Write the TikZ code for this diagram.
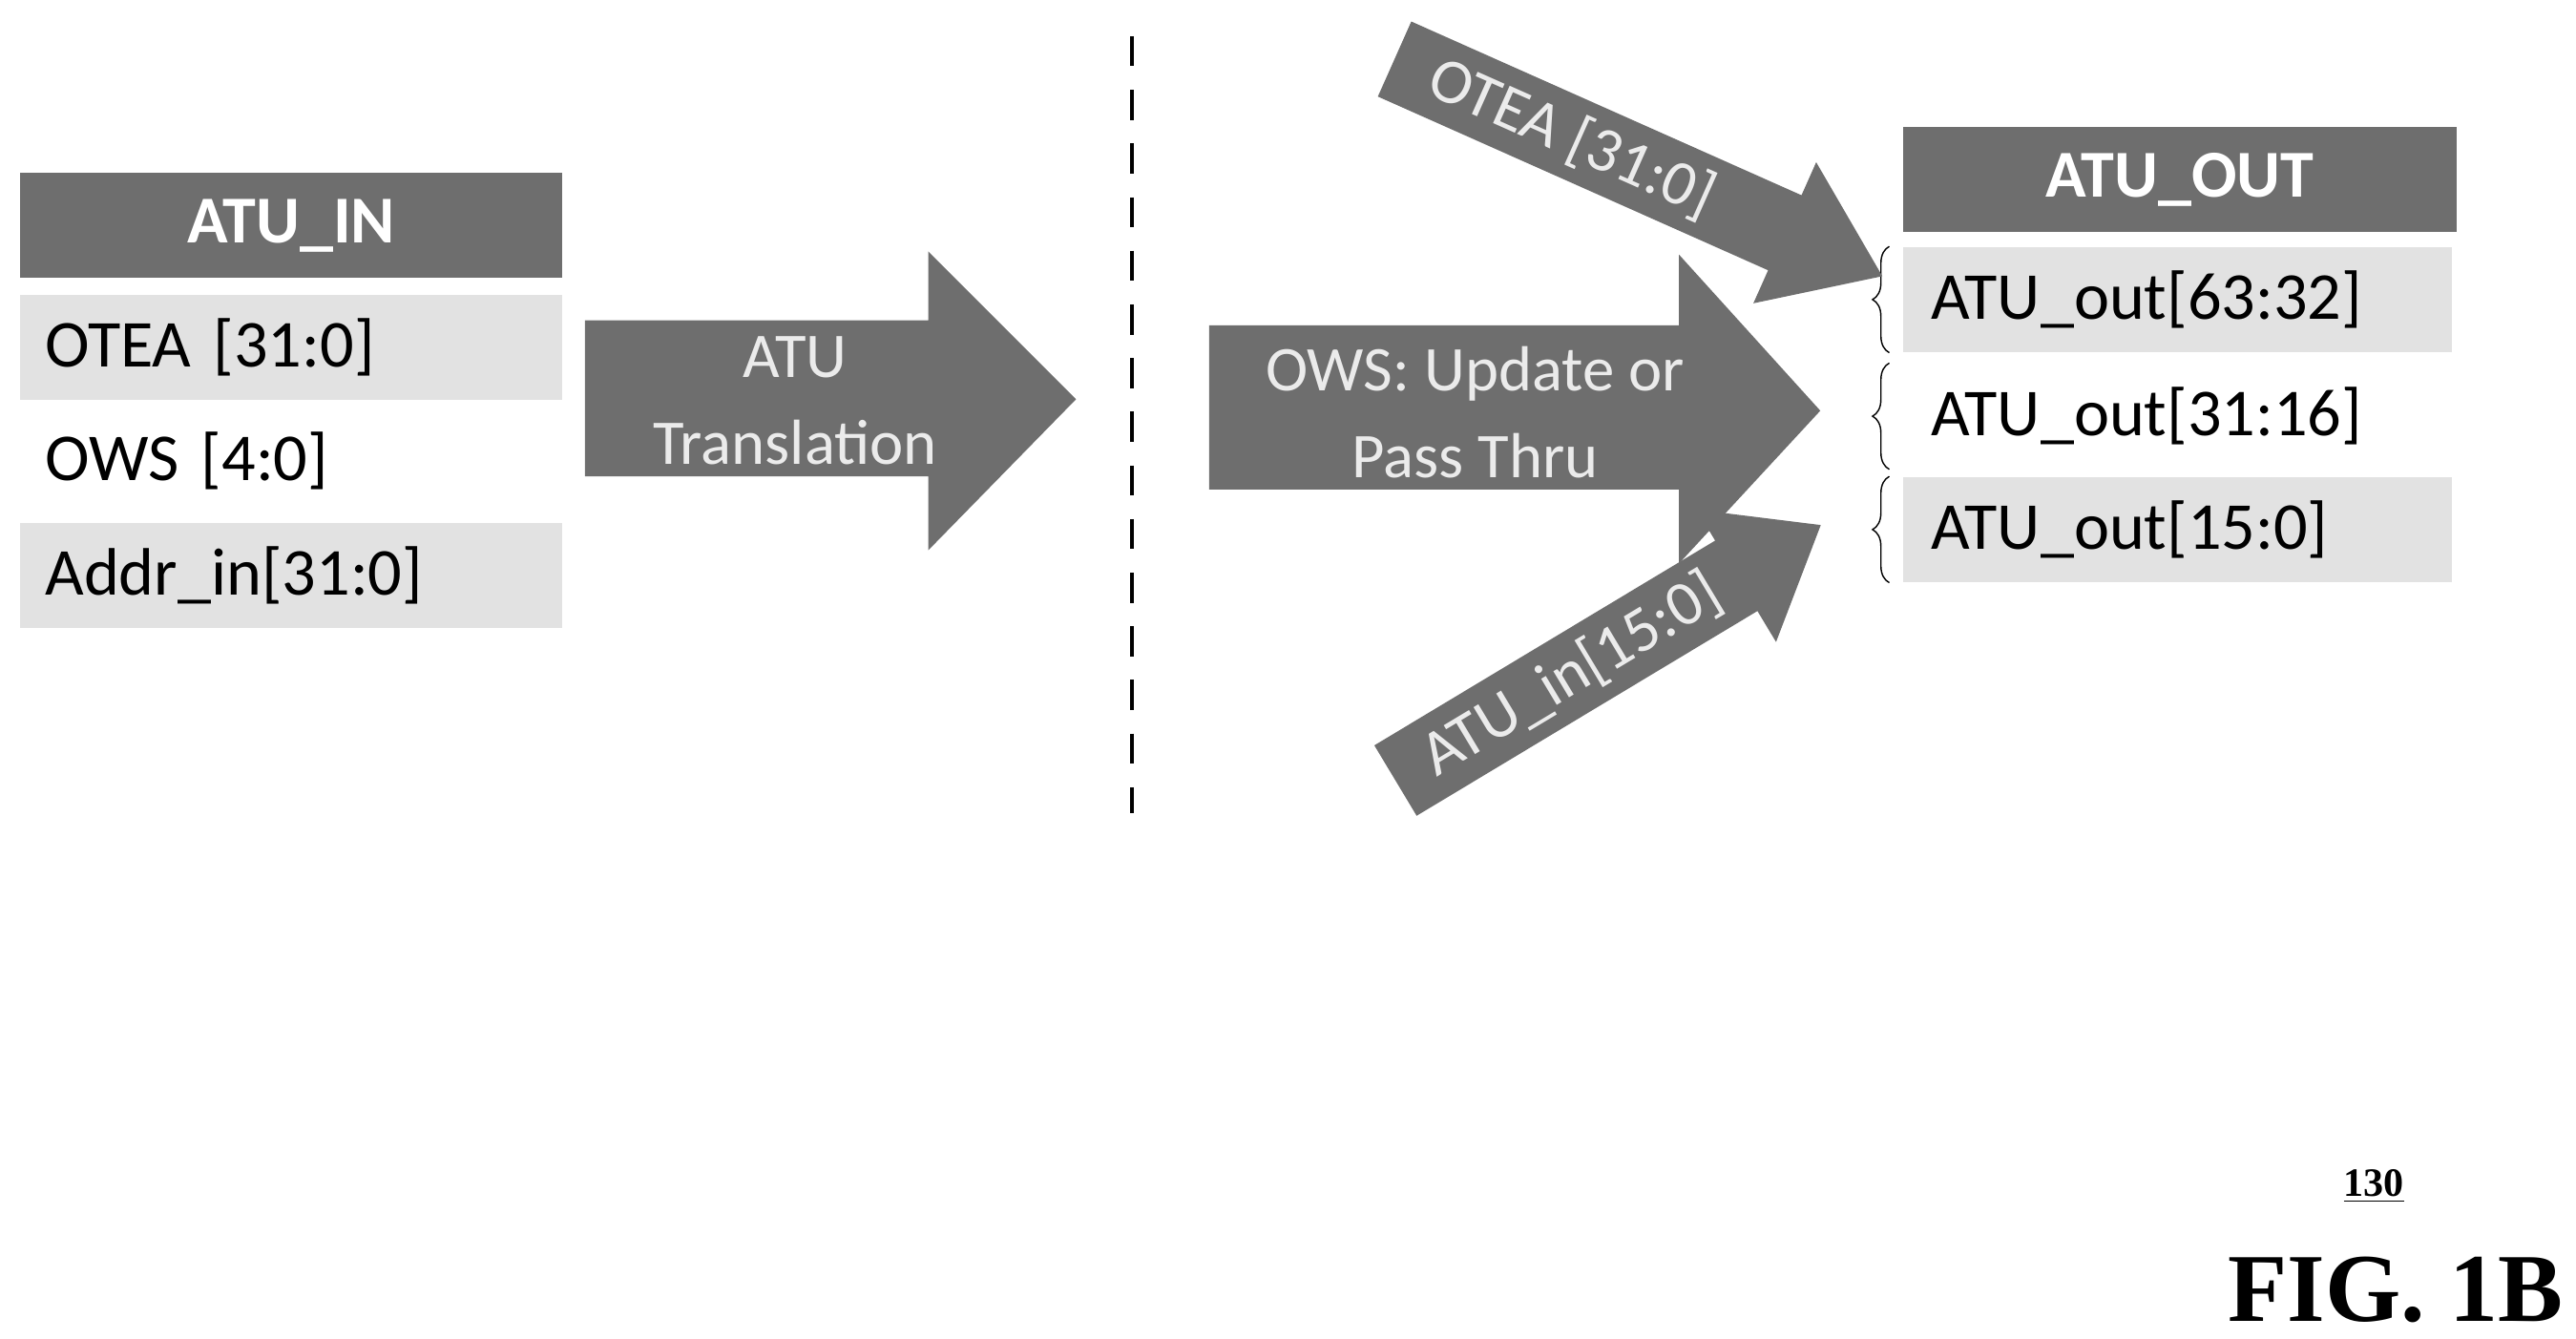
\documentclass[tikz,border=0pt]{standalone}
\usepackage{fontspec}
\setmainfont{Carlito}
\newfontfamily\figfont{Liberation Serif}
\usetikzlibrary{calc,decorations.pathreplacing}
\definecolor{darkbar}{HTML}{6E6E6E}
\definecolor{lightrow}{HTML}{E2E2E2}
\definecolor{arrowtext}{HTML}{EBEBEB}
\tikzset{
  head/.style={fill=darkbar, text=white, font=\fontsize{20}{24}\selectfont\bfseries, minimum width=56.8mm, minimum height=11mm, inner sep=0pt},
  row/.style={minimum width=56.8mm, minimum height=11mm, inner sep=0pt, text width=51.6mm, align=left, font=\fontsize{20}{24}\selectfont},
  grayrow/.style={row, fill=lightrow},
  bigarrow/.style={fill=darkbar, draw=none},
  arrowlabel/.style={text=arrowtext, font=\fontsize{19}{26}\selectfont, align=center},
  bracket/.style={decorate, decoration={brace, amplitude=5pt}, thin}
}
\begin{document}
\begin{tikzpicture}[x=0.1722mm, y=-0.1722mm]
    \useasboundingbox (0,0) rectangle (1568,815);
    % input table
    \node [head, anchor=north west] (in-head) at (12,105) {ATU\_IN};
    \node [grayrow, anchor=north west] (in-otea) at (12,179) {OTEA [31:0]};
    \node [row, anchor=north west] (in-ows) at (12,248) {OWS [4:0]};
    \node [grayrow, anchor=north west] (in-addr) at (12,318) {Addr\_in[31:0]};
    % translation arrow
    \fill [bigarrow] (356,195) -- (565,195) -- (565,153) -- (655,243) -- (565,335) -- (565,290) -- (356,290) -- cycle;
    \node [arrowlabel] (translate) at (484,244) {ATU\\Translation};
    % divider
    \draw [dashed, line width=1.3pt, dash pattern=on 9pt off 7pt] (689,22) -- (689,495);
    % update arrow
    \fill [bigarrow] (736,198) -- (1022,198) -- (1022,155) -- (1108,250) -- (1022,343) -- (1022,298) -- (736,298) -- cycle;
    \node [arrowlabel] (update) at (898,251) {OWS: Update or\\Pass Thru};
    % output table
    \node [head, anchor=north west, minimum width=58mm] (out-head) at (1158,77) {ATU\_OUT};
    \node [grayrow, anchor=north west, minimum width=57.5mm] (out-hi) at (1158,150) {ATU\_out[63:32]};
    \node [row, anchor=north west, minimum width=57.5mm] (out-mid) at (1158,221) {ATU\_out[31:16]};
    \node [grayrow, anchor=north west, minimum width=57.5mm] (out-lo) at (1158,290) {ATU\_out[15:0]};
    \draw [bracket] ($(out-hi.south west)+(-8,0)$) -- ($(out-hi.north west)+(-8,0)$);
    \draw [bracket] ($(out-mid.south west)+(-8,0)$) -- ($(out-mid.north west)+(-8,0)$);
    \draw [bracket] ($(out-lo.south west)+(-8,0)$) -- ($(out-lo.north west)+(-8,0)$);
    % side arrows
    \begin{scope}[shift={(858,40)}, rotate=-24]
        \fill [bigarrow] (-10,-25) -- (250,-25) -- (250,-47) -- (315,0) -- (250,47) -- (250,25) -- (-10,25) -- cycle;
        \node [arrowlabel, rotate=-24] (otea) at (108,0) {OTEA [31:0]};
    \end{scope}
    \begin{scope}[shift={(858,470)}, rotate=31]
        \fill [bigarrow] (-10,-25) -- (232,-25) -- (232,-47) -- (292,0) -- (232,47) -- (232,25) -- (-10,25) -- cycle;
        \node [arrowlabel, rotate=31] (atuin) at (115,0) {ATU\_in[15:0]};
    \end{scope}
    % figure label
    \node [font=\figfont\bfseries\fontsize{12}{14}\selectfont] (ref) at (1445,722) {\underline{130}};
    \node [font=\figfont\bfseries\fontsize{29}{34}\selectfont] (fig) at (1458,785) {FIG. 1B};
\end{tikzpicture}
\end{document}
